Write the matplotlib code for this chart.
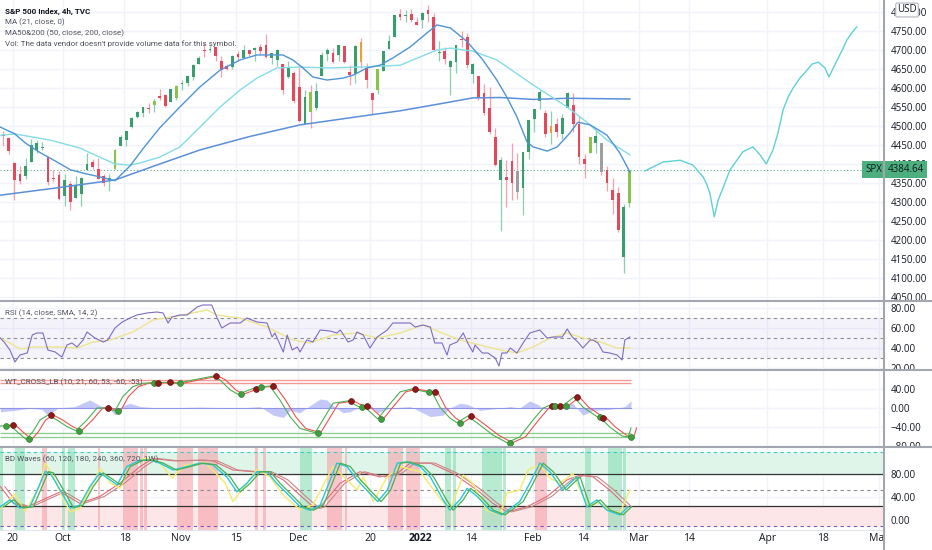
import matplotlib
matplotlib.use("Agg")
import matplotlib.pyplot as plt
from matplotlib.lines import Line2D
from matplotlib.transforms import blended_transform_factory, Bbox, TransformedBbox

plt.rcParams['font.family'] = ['Open Sans', 'DejaVu Sans']

# ---- S&P 500, one candle per session (Sep 16 2021 .. Feb 25 2022) ----
opens = [4477, 4469, 4402, 4374, 4368, 4406, 4438, 4443, 4419, 4363, 4371,
         4317, 4348, 4310, 4320, 4383, 4406, 4386, 4368, 4358, 4387, 4447, 4463, 4497, 4524, 4533, 4547, 4554, 4579, 4581, 4562, 4573,
         4611, 4613, 4630, 4662, 4699, 4701, 4707, 4670, 4659, 4655, 4689, 4680, 4701, 4700, 4708, 4712, 4679, 4675, 4664, 4629, 4640,
         4602, 4504, 4589, 4548, 4631, 4690, 4691, 4687, 4711, 4642, 4637, 4720, 4652, 4587, 4594, 4645, 4703, 4734, 4795, 4789, 4795, 4775,
         4779, 4804, 4787, 4693, 4698, 4655, 4669, 4729, 4733, 4637, 4632, 4588, 4548, 4471, 4357, 4367, 4408, 4381, 4337, 4432,
         4519, 4566, 4535, 4482, 4505, 4480, 4548, 4554, 4506, 4412, 4430, 4456, 4456, 4385, 4332, 4324, 4155, 4298]
highs = [4486, 4471, 4406, 4394, 4417, 4465, 4463, 4457, 4420, 4385, 4382,
         4375, 4356, 4369, 4365, 4429, 4412, 4415, 4374, 4373, 4440, 4476, 4488, 4523, 4540, 4551, 4560, 4572, 4598, 4584, 4598, 4608,
         4621, 4635, 4663, 4683, 4719, 4714, 4708, 4684, 4664, 4688, 4697, 4714, 4701, 4708, 4717, 4743, 4691, 4702, 4664, 4672, 4646,
         4652, 4595, 4608, 4612, 4694, 4705, 4705, 4713, 4711, 4660, 4712, 4732, 4667, 4587, 4651, 4697, 4740, 4791, 4807, 4805, 4808, 4787,
         4800, 4819, 4797, 4725, 4707, 4673, 4714, 4749, 4745, 4666, 4632, 4611, 4603, 4495, 4418, 4411, 4454, 4429, 4432, 4516,
         4546, 4596, 4542, 4540, 4521, 4531, 4590, 4588, 4527, 4426, 4472, 4490, 4456, 4394, 4362, 4340, 4294, 4385]
lows = [4447, 4427, 4306, 4347, 4360, 4406, 4430, 4436, 4346, 4353, 4306,
        4289, 4279, 4310, 4290, 4383, 4386, 4360, 4343, 4330, 4387, 4447, 4447, 4496, 4521, 4524, 4534, 4538, 4569, 4551, 4562, 4568,
        4595, 4604, 4621, 4662, 4681, 4694, 4670, 4630, 4648, 4650, 4672, 4679, 4684, 4672, 4690, 4680, 4662, 4659, 4585, 4626, 4560,
        4510, 4504, 4495, 4541, 4631, 4670, 4666, 4671, 4667, 4607, 4612, 4652, 4600, 4531, 4583, 4645, 4703, 4734, 4780, 4775, 4775, 4766,
        4758, 4775, 4700, 4671, 4663, 4582, 4639, 4708, 4653, 4614, 4568, 4530, 4478, 4396, 4223, 4288, 4305, 4309, 4265, 4414,
        4484, 4544, 4470, 4452, 4471, 4465, 4548, 4484, 4401, 4364, 4430, 4429, 4372, 4328, 4268, 4222, 4114, 4287]
closes = [4474, 4433, 4358, 4354, 4395, 4449, 4455, 4443, 4353, 4360, 4308,
          4357, 4301, 4346, 4363, 4399, 4391, 4361, 4351, 4364, 4438, 4471, 4486, 4520, 4537, 4550, 4545, 4567, 4575, 4552, 4597, 4605,
          4614, 4631, 4660, 4680, 4698, 4702, 4685, 4647, 4650, 4683, 4682, 4701, 4689, 4704, 4698, 4682, 4691, 4701, 4595, 4655, 4567,
          4513, 4577, 4538, 4592, 4686, 4701, 4668, 4712, 4669, 4635, 4710, 4669, 4621, 4568, 4649, 4697, 4725, 4791, 4786, 4793, 4778, 4766,
          4797, 4794, 4701, 4696, 4677, 4671, 4713, 4726, 4660, 4663, 4577, 4533, 4483, 4398, 4410, 4357, 4350, 4327, 4432, 4516,
          4546, 4589, 4478, 4501, 4484, 4522, 4587, 4504, 4419, 4401, 4472, 4475, 4380, 4349, 4305, 4226, 4288, 4385]
last_price = 4384.64

# moving averages (bar index, price)
ma21_x = [-0.5, 2, 4, 6.6, 9.3, 12, 14.3, 17.3, 20, 22.7, 25, 28, 31.6, 35.2, 38.8, 42.4, 45.4, 50, 51.8, 53.6, 55.4, 57.9,
          60.8, 62.6, 65.1, 67.4, 69.7, 72.8, 75.8, 77.6, 80, 83, 85.8, 88.3, 90.1, 91.9, 93.7, 94.8, 97.3, 99.1, 101.4,
          102.8, 105, 108, 110.3, 112.1]
ma21_v = [4497, 4480, 4455, 4430, 4408, 4385, 4376, 4366, 4356, 4395, 4440, 4495, 4550, 4603, 4647, 4674, 4687, 4687, 4674,
          4653, 4629, 4621, 4626, 4634, 4653, 4660, 4679, 4708, 4745, 4766, 4758, 4722, 4674, 4621, 4576, 4524, 4458, 4445,
          4434, 4445, 4482, 4510, 4503, 4476, 4429, 4379]
ma50_x = [-0.5, 2.1, 8.4, 13.7, 17.3, 20, 22.7, 24.5, 28, 31.6, 35.2, 38.8, 42.4, 45.4, 49, 53.1, 58.5, 63.8, 71, 77.6, 80,
          84, 88.3, 94.8, 100.9, 104.4, 108, 112.1]
ma50_v = [4476, 4479, 4463, 4442, 4418, 4400, 4397, 4403, 4418, 4445, 4497, 4550, 4595, 4626, 4653, 4655, 4653, 4655, 4660,
          4700, 4705, 4697, 4674, 4608, 4550, 4510, 4463, 4424]
ma200_x = [-0.5, 10, 20, 28, 35.2, 44, 53.1, 65.6, 71, 79.9, 84, 88.9, 94.8, 100.9, 112.1]
ma200_v = [4318, 4338, 4358, 4400, 4437, 4472, 4503, 4529, 4540, 4563, 4574, 4575, 4570, 4573, 4571]

# projected path to the right of the last bar
proj_x = [114.8, 118.0, 121.1, 123.4, 125.2, 125.9, 126.4, 127.2, 127.9, 130.0, 132.3, 134.1, 135.4, 136.5, 137.7,
          138.6, 139.5, 140.4, 141.3, 142.5, 143.8, 144.7, 145.8, 147.0, 147.7, 149.2, 150.1, 150.9, 151.8, 152.7]
proj_v = [4382, 4405, 4410, 4397, 4366, 4345, 4324, 4261, 4305, 4384, 4432, 4445, 4424, 4400, 4437, 4482, 4542, 4576,
          4600, 4626, 4647, 4663, 4668, 4653, 4629, 4674, 4700, 4726, 4745, 4761]

# RSI (14) and its SMA
rsi_x = [-0.5, 0.3, 1.2, 2.1, 3.0, 4.3, 5.2, 6.0, 7.1, 8.0, 9.3, 10.5, 11.4, 12.3, 13.2, 14.3, 15.0, 16.4, 17.9, 18.7,
         20.0, 21.3, 22.7, 23.9, 25.7, 27.5, 28.6, 29.5, 30.2, 31.6, 32.9, 34.7, 35.7, 37.3, 38.2, 39.1, 40.6, 42.4, 43.6,
         45.4, 47.2, 48.1, 48.6, 50.1, 50.8, 51.7, 52.6, 53.1, 54.3, 55.4, 56.7, 58.5, 59.7, 60.3, 61.7, 62.6, 63.3, 64.4,
         65.6, 66.9, 68.7, 69.7, 71.3, 72.8, 73.7, 75.1, 76.4, 77.2, 78.5, 79.4, 79.9, 81.2, 82.3, 83.1, 84.0, 84.4, 85.7,
         86.7, 88.0, 88.7, 89.2, 90.1, 90.7, 91.9, 93.0, 94.2, 96.0, 97.3, 98.4, 100.0, 100.9, 101.8, 102.8, 103.7, 105.0,
         105.5, 106.4, 107.3, 108.5, 109.8, 110.7, 111.2, 112.1]
rsi_v = [50, 45, 38, 26, 33, 35, 53, 55, 55, 38, 36, 31, 43, 45, 41, 48, 56, 50, 46, 48,
         60, 66, 70, 73, 75, 76, 75, 65, 71, 73, 73, 81, 83, 83, 71, 60, 65, 65, 70, 66,
         65, 51, 55, 36, 53, 38, 41, 36, 48, 46, 58, 57, 55, 58, 46, 48, 56, 53, 40, 51,
         58, 65, 65, 65, 61, 63, 61, 45, 45, 33, 43, 46, 55, 45, 36, 43, 35, 35, 30, 22,
         35, 35, 40, 35, 45, 55, 58, 50, 51, 51, 59, 51, 46, 40, 48, 48, 45, 36, 35, 33, 28, 48, 51]
rsi_sma_x = [-0.5, 1.2, 3.0, 5.3, 10.2, 13.2, 16.1, 19.1, 23.2, 26.8, 31.1, 36.5, 38.2, 42.4, 47.2, 51.8, 54.9, 59.0,
             63.3, 66.9, 71.0, 75.1, 78.1, 81.7, 85.3, 88.9, 91.9, 94.8, 97.8, 100.9, 103.7, 106.8, 109.8, 112.1]
rsi_sma_v = [50, 45, 39, 41, 41, 40, 46, 48, 56, 68, 72, 78, 73, 70, 61, 48, 45, 53, 55, 50, 55, 63, 56, 48, 43, 38,
             35, 41, 50, 55, 50, 46, 40, 40]

# WaveTrend cross
wt_x = [-0.5, 1.2, 2.5, 4.1, 5.3, 6.6, 8.0, 9.6, 11.4, 13.0, 15.0, 16.8, 18.2, 20.0, 21.4, 23.2, 25.0, 26.8, 29.3,
        31.1, 34.0, 37.5, 38.8, 40.6, 42.0, 44.7, 45.6, 47.7, 49.5, 51.3, 53.1, 55.8, 59.0, 61.7, 63.7, 64.5, 67.0,
        68.7, 71.0, 73.1, 75.6, 76.7, 78.1, 79.9, 81.2, 83.1, 85.3, 87.6, 90.1, 92.4, 94.8, 96.6, 97.6, 98.2, 99.1,
        100.1, 102.1, 103.7, 106.2, 106.8, 108.5, 110.7, 111.8, 112.3]
wt_v = [-38, -36, -50, -66, -50, -25, -15, -25, -39, -48, -25, 0, 0, -6, 24, 45, 52, 53, 54, 52, 59, 67, 59, 38, 29,
        41, 44, 46, 17, -18, -43, -52, 10, 15, 2, 4, -23, 2, 34, 40, 34, 34, 2, -21, -31, -17, -36, -57, -73, -61,
        -25, 0, 5, 5, 5, 5, 23, 2, -18, -20, -40, -59, -61, -42]
wt_dot_x = [0, 1.2, 4.1, 8.0, 13.0, 18.2, 20.0, 26.4, 27.2, 29.3, 31.1, 37.5, 42.0, 44.7, 45.6, 47.7, 55.8, 61.7,
            63.7, 64.5, 67.0, 73.1, 75.6, 76.7, 81.2, 83.1, 90.1, 97.6, 98.2, 99.1, 100.1, 102.1, 106.2, 106.8, 111.8]
wt_dot_v = [-38, -36, -66, -15, -48, 0, -6, 53, 53, 54, 52, 67, 29, 41, 44, 46, -52, 15, 2, 4, -23, 40, 34, 34,
            -31, -17, -73, 5, 5, 5, 5, 23, -18, -20, -61]
wt_dot_up = [1, 0, 1, 0, 1, 0, 1, 1, 0, 0, 1, 0, 1, 0, 1, 0, 1, 0, 1, 0, 1, 0, 1, 0, 1, 0, 1, 0, 1, 0, 1, 0, 1, 0, 1]
wt_hist_x = [-0.5, 2.1, 4.8, 6.9, 8.0, 9.8, 12.8, 15.5, 17.3, 19.1, 20.0, 21.4, 22.7, 24.5, 28.0, 35.2, 42.4, 45.9,
             48.3, 50.1, 51.3, 53.1, 54.9, 56.7, 57.9, 59.0, 60.8, 62.0, 63.8, 65.6, 66.9, 69.2, 72.8, 76.4, 78.7,
             79.9, 81.7, 83.0, 85.3, 88.9, 90.7, 92.4, 94.2, 95.5, 96.9, 99.6, 101.9, 103.7, 105.5, 108.5, 111.2, 112.3]
wt_hist_v = [-8, -5, 0, -3, -15, 0, 3, 17, 5, -3, -15, 5, 10, 3, 0, 2, 0, 3, -15, -20, -5, -10, 5, 19, 17, 5, -10,
             -8, 2, 8, -10, 0, 3, -18, -15, 0, 10, 8, -5, 0, 3, 0, 15, 8, -2, 3, 10, -15, -5, -3, 3, 15]

# BD Waves
bd_fast_x = [-0.5, 2.1, 3.9, 6.6, 7.5, 8.7, 11.1, 12.0, 13.7, 16.4, 17.3, 19.1, 20.9, 22.7, 25.4, 28.0, 30.2, 32.5,
             36.1, 39.7, 41.1, 43.3, 45.4, 47.7, 50.4, 53.1, 55.4, 59.0, 61.5, 63.3, 64.4, 66.2, 68.7, 71.0, 74.6,
             78.1, 79.9, 82.3, 84.0, 86.5, 88.9, 90.1, 92.4, 93.9, 96.0, 97.8, 99.6, 101.9, 104.4, 106.8, 108.5,
             110.3, 112.1]
bd_fast_v = [20, 45, 15, 60, 99, 80, 30, 14, 20, 70, 90, 65, 55, 95, 108, 100, 73, 95, 100, 65, 32, 60, 88, 75, 40,
             18, 26, 93, 70, 52, 75, 32, 75, 93, 84, 38, 17, 78, 64, 17, 9, 47, 52, 87, 96, 73, 64, 81, 26, 29, 17,
             12, 52]
bd_mid_x = [-0.5, 1.2, 3.0, 4.8, 7.5, 8.4, 10.2, 12.0, 13.7, 15.5, 17.3, 19.1, 20.4, 22.1, 24.5, 26.3, 28.0, 30.4,
            32.9, 35.2, 37.5, 40.0, 41.8, 43.6, 45.4, 47.2, 48.9, 51.3, 53.1, 54.9, 56.7, 59.7, 61.5, 63.3, 65.6,
            67.0, 68.7, 70.5, 72.2, 74.6, 76.4, 78.7, 79.9, 81.7, 83.0, 84.8, 87.1, 89.2, 90.7, 92.4, 94.2, 96.0,
            97.8, 100.1, 102.6, 104.4, 106.2, 108.0, 110.3, 111.8]
bd_mid_v = [23, 35, 21, 23, 84, 82, 52, 21, 26, 58, 82, 70, 61, 93, 104, 104, 99, 87, 93, 99, 96, 75, 49, 64, 84,
            84, 64, 41, 23, 17, 26, 99, 93, 70, 46, 32, 52, 99, 101, 93, 75, 35, 17, 35, 55, 41, 17, 9, 20, 32, 64,
            99, 84, 52, 75, 23, 35, 17, 9, 23]
bd_slow_x = [-0.5, 1.8, 4.3, 10.2, 13.7, 17.3, 20.9, 24.5, 26.8, 30.4, 35.2, 37.5, 41.1, 44.7, 47.2, 50.1, 53.1,
             55.8, 56.7, 60.3, 63.8, 67.4, 70.5, 72.8, 76.4, 80.5, 84.8, 87.6, 90.1, 93.7, 97.3, 100.9, 103.2,
             105.5, 108.5, 111.6]
bd_slow_v = [58, 29, 23, 49, 29, 41, 64, 93, 107, 103, 104, 103, 87, 84, 84, 70, 43, 20, 23, 64, 84, 75, 81, 99,
             99, 81, 52, 29, 14, 23, 41, 70, 78, 75, 52, 23]
bd_buy_start = [-0.6, 2.1, 10.5, 11.6, 53.1, 79.0, 80.5, 85.7, 89.4, 104.1, 108.2, 110.9]
bd_buy_end = [0.0, 3.9, 11.1, 12.8, 55.2, 80.1, 81.0, 89.2, 90.0, 105.2, 110.7, 111.4]
bd_sell_start = [6.9, 17.0, 21.4, 24.5, 25.2, 31.1, 34.8, 45.0, 46.5, 57.9, 61.1, 68.8, 72.1, 95.1]
bd_sell_end = [7.8, 17.3, 24.1, 25.0, 25.7, 34.0, 38.4, 45.6, 47.0, 60.6, 61.5, 71.5, 74.6, 97.3]

# time axis
tick_bars = [2, 11, 22, 32, 42, 53, 66, 75, 84, 95, 104, 114, 123, 137, 147, 157]
tick_labels = ['20', 'Oct', '18', 'Nov', '15', 'Dec', '20', '2022', '14', 'Feb', '14', 'Mar', '14', 'Apr', '18', 'May']

# ---------------- layout ----------------
W, H = 932, 550
AXR = 884
TXT = '#131722'
LEG = '#50535e'
GRID = '#f0f3fa'
UP, DOWN = '#3a9d6e', '#e5485a'
UP_WICK, DOWN_WICK = '#8ccfae', '#f2a1ab'
LEG_FONT = dict(family=['Roboto', 'Open Sans', 'DejaVu Sans'], size=5.8)

fig = plt.figure(figsize=(W / 100, H / 100), dpi=100)
fig.patch.set_facecolor('white')
tick_pos = [b - 0.3 for b in tick_bars]


def pane(top, bottom, ylim, yticks):
    a = fig.add_axes([0, 1 - bottom / H, AXR / W, (bottom - top) / H])
    a.set_xlim(-0.57, 157.56)
    a.set_ylim(*ylim)
    for s in a.spines.values():
        s.set_visible(False)
    a.yaxis.tick_right()
    a.set_xticks(tick_pos)
    a.set_yticks(yticks)
    a.set_yticklabels([f'{v:.2f}'.replace('-', '\u2212') for v in yticks])
    a.tick_params(axis='both', length=0, labelsize=7, colors=TXT, pad=5)
    a.tick_params(axis='x', labelbottom=False)
    a.grid(True, color=GRID, lw=1)
    a.set_axisbelow(True)
    box = TransformedBbox(Bbox([[AXR / W, 1 - bottom / H], [1, 1 - top / H]]), fig.transFigure)
    for t in a.get_yticklabels():
        t.set_clip_box(box)
        t.set_clip_on(True)
    return a


ax = pane(0, 301, (4039.5, 4831.6), list(range(4050, 4801, 50)))
ax_rsi = pane(301, 370, (18, 87), [20, 40, 60, 80])
ax_wt = pane(370, 447, (-82.1, 80), [-80, -40, 0, 40])
ax_bd = pane(447, 530, (-17.4, 127), [0, 40, 80])
last_bar = len(closes) - 1 + 0.3

# ---- price pane ----
special = {20: '#8bc34a', 27: '#8bc34a', 31: '#8bc34a', 55: '#8bc34a', 64: '#f39c34', 67: '#8bc34a',
           92: '#9e9e9e', 98: '#f39c34', 105: '#8bc34a', 107: '#9e9e9e', 112: '#8bc34a'}
for i, (o, h, l, c) in enumerate(zip(opens, highs, lows, closes)):
    up = c >= o
    body = special.get(i, UP if up else DOWN)
    ax.vlines(i, l, h, color=UP_WICK if up else DOWN_WICK, lw=0.9, zorder=2)
    ax.bar(i, max(abs(c - o), 1.5), bottom=min(o, c), width=0.5, color=body, zorder=3)

ax.plot(ma200_x, ma200_v, color='#5b8fd9', lw=1.1, zorder=4)
ax.plot(ma50_x, ma50_v, color='#84dce6', lw=1.0, zorder=4)
ax.plot(ma21_x, ma21_v, color='#4f94d4', lw=1.0, zorder=4)
ax.plot(proj_x, proj_v, color='#5fd0d6', lw=1.0, zorder=4)
ax.axhline(last_price, color='#5fae86', lw=0.8, ls=(0, (1, 2)), zorder=1)

trans = blended_transform_factory(ax.transAxes, ax.transData)
ax.text(1.004, last_price, '4384.64', transform=trans, ha='left', va='center', fontsize=7, color=TXT,
        bbox=dict(boxstyle='square,pad=0.3', fc='#4cb07e', ec='none'), clip_on=False, zorder=10)
ax.text(0.998, last_price, 'SPX', transform=trans, ha='right', va='center', fontsize=7, color=TXT,
        bbox=dict(boxstyle='square,pad=0.3', fc='#4cb07e', ec='none'), clip_on=False, zorder=10)
fig.text(907 / W, 1 - 10 / H, 'USD', ha='center', va='center', fontsize=7, color=TXT, zorder=10,
         bbox=dict(boxstyle='round,pad=0.15', fc='white', ec='#b2b5be', lw=0.8))

# ---- RSI ----
ax_rsi.axhspan(30, 70, color='#7e57c2', alpha=0.07, lw=0)
for lv in (70, 50, 30):
    ax_rsi.axhline(lv, color='#8a8d96', lw=0.8, ls=(0, (3, 3)))
ax_rsi.plot(rsi_sma_x, rsi_sma_v, color='#ece58f', lw=1.0)
ax_rsi.plot(rsi_x, rsi_v, color='#7e6cc4', lw=0.8)

# ---- WT cross ----
for lv in (60, 53):
    ax_wt.hlines(lv, -0.57, last_bar, color='#f49a94', lw=1.0)
for lv in (-53, -60):
    ax_wt.hlines(lv, -0.57, last_bar, color='#8fcf92', lw=1.0)
ax_wt.fill_between(wt_hist_x, 0, wt_hist_v, color='#9ea4f3', alpha=0.6, lw=0)
ax_wt.plot([wt_hist_x[0], wt_hist_x[-1]], [0, 0], color='#8f95e8', lw=0.8)
ax_wt.plot([x + 1.0 for x in wt_x], wt_v, color='#ef5350', lw=0.8)
ax_wt.plot(wt_x, wt_v, color='#4caf50', lw=0.8)
for x, v, u in zip(wt_dot_x, wt_dot_v, wt_dot_up):
    ax_wt.plot(x + 0.5, v, 'o', ms=4.2, color='#3f9f3f' if u else '#8e1b1b',
               mec='#2e7d32' if u else '#6d1010', mew=0.5, zorder=5)

# ---- BD Waves ----
ax_bd.axhspan(80, 118, color='#dff5ea', lw=0)
ax_bd.axhspan(-10, 25, color='#fde6e8', lw=0)
for s, e in zip(bd_buy_start, bd_buy_end):
    ax_bd.axvspan(s, e, color='#7fdcad', alpha=0.55, lw=0)
for s, e in zip(bd_sell_start, bd_sell_end):
    ax_bd.axvspan(s, e, color='#f5a3aa', alpha=0.6, lw=0)
ax_bd.axhline(118, color='#3cc8c8', lw=0.8, ls=(0, (3, 3)))
ax_bd.axhline(80, color='#333333', lw=0.9)
ax_bd.axhline(52, color='#8a8d96', lw=0.8, ls=(0, (3, 3)))
ax_bd.axhline(25, color='#333333', lw=0.9)
ax_bd.axhline(-10, color='#7e57c2', lw=0.8, ls=(0, (3, 3)))
ax_bd.plot(bd_slow_x, bd_slow_v, color='#e06a78', lw=0.8)
ax_bd.plot([x + 0.8 for x in bd_slow_x], bd_slow_v, color='#c98686', lw=0.8)
ax_bd.plot(bd_fast_x, bd_fast_v, color='#f5ea6a', lw=1.0)
ax_bd.plot(bd_mid_x, bd_mid_v, color='#26c6da', lw=1.0)
ax_bd.plot([x + 0.6 for x in bd_mid_x], bd_mid_v, color='#4caf50', lw=0.9)

ax_bd.tick_params(axis='x', labelbottom=True, pad=2, labelsize=7.5)
ax_bd.set_xticklabels(tick_labels)
xbox = TransformedBbox(Bbox([[0, 0], [AXR / W, 1]]), fig.transFigure)
for t in ax_bd.get_xticklabels():
    t.set_clip_box(xbox)
    t.set_clip_on(True)
    if t.get_text() == '2022':
        t.set_fontweight('bold')

# ---- legends ----
fig.text(5 / W, 1 - 11 / H, 'S&P 500 Index, 4h, TVC', weight='bold', color=TXT, va='center', **LEG_FONT)
fig.text(5 / W, 1 - 22 / H, 'MA (21, close, 0)', color=LEG, va='center', **LEG_FONT)
fig.text(5 / W, 1 - 33 / H, 'MA50&200 (50, close, 200, close)', color=LEG, va='center', **LEG_FONT)
fig.text(5 / W, 1 - 44 / H, "Vol: The data vendor doesn't provide volume data for this symbol.",
         color=LEG, va='center', **LEG_FONT)
fig.text(5 / W, 1 - 313 / H, 'RSI (14, close, SMA, 14, 2)', color=LEG, va='center', **LEG_FONT)
fig.text(5 / W, 1 - 382 / H, 'WT_CROSS_LB (10, 21, 60, 53, -60, -53)', color=LEG, va='center', **LEG_FONT)
fig.text(5 / W, 1 - 459 / H, 'BD Waves (60, 120, 180, 240, 360, 720, 1W)', color=LEG, va='center', **LEG_FONT)

# ---- pane separators ----
for y in (301, 370, 447):
    fig.add_artist(Line2D([0, 1], [1 - y / H, 1 - y / H], transform=fig.transFigure, color='#a3a6af', lw=1.5))
fig.add_artist(Line2D([0, AXR / W], [1 - 530 / H, 1 - 530 / H], transform=fig.transFigure, color='#e0e3eb', lw=0.8))
fig.add_artist(Line2D([AXR / W, AXR / W], [0, 1], transform=fig.transFigure, color='#a3a6af', lw=1.5))

fig.savefig('out.png', dpi=100, facecolor='white')
